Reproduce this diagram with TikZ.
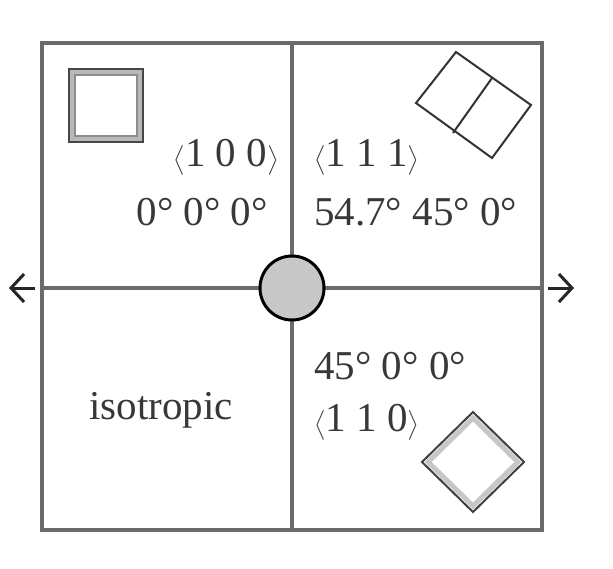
\documentclass[tikz,border=0pt]{standalone}
\usepackage{amsmath}
\usepackage{fontspec}
\setmainfont{Liberation Serif}
\usetikzlibrary{arrows.meta,calc}
\newcommand{\lang}{$\bigl\langle$}
\newcommand{\rang}{$\bigr\rangle$}
\begin{document}
\begin{tikzpicture}[x=1pt,y=-1pt,
  frame/.style={draw=black!58, line width=3.5pt},
  lbl/.style={font=\fontsize{41}{48}\selectfont, text=black!78, inner sep=0pt},
  ax/.style={draw=black!85, line width=3pt, -{Straight Barb[length=13pt,width=28pt,line width=3pt]}},
  thin/.style={draw=black!80, line width=2pt}]
\useasboundingbox[fill=white] (0,0) rectangle (613,568);
% outer frame and cross
\coordinate (tl) at (42,43);
\coordinate (br) at (542,530);
\draw[frame] (tl) rectangle (br);
\coordinate (vt) at (292,43);
\coordinate (vb) at (292,530);
\coordinate (hl) at (42,288);
\coordinate (hr) at (542,288);
\draw[frame] (vt) -- (vb);
\draw[frame] (hl) -- (hr);
% center circle
\node[circle, draw=black, line width=3pt, fill=black!22, minimum size=64pt, inner sep=0pt] (c) at (292,288) {};
% arrows
\coordinate (la0) at (35,288);
\coordinate (la1) at (9,288);
\coordinate (ra0) at (548,288);
\coordinate (ra1) at (574,288);
\draw[ax] (la0) -- (la1);
\draw[ax] (ra0) -- (ra1);
% top-left square
\draw[draw=black!28, line width=6pt] (72,72) rectangle (140,139);
\draw[draw=black!72, line width=2.5pt] (69,69) rectangle (143,142);
\draw[draw=black!45, line width=1.2pt] (75,75) rectangle (137,136);
% top-right rotated rectangle
\coordinate (r1) at (416,103);
\coordinate (r2) at (456,52);
\coordinate (r3) at (531,105);
\coordinate (r4) at (492,158);
\coordinate (m1) at (492,78);
\coordinate (m2) at (453,133);
\draw[thin] (r1) -- (r2) -- (r3) -- (r4) -- cycle;
\draw[thin] (m1) -- (m2);
% bottom-right diamond
\coordinate (d1) at (473,412);
\coordinate (d2) at (524,462);
\coordinate (d3) at (473,512);
\coordinate (d4) at (422,462);
\draw[draw=black!22, line width=5pt] ($(d1)!0.06!(d3)$) -- ($(d2)!0.06!(d4)$) -- ($(d3)!0.06!(d1)$) -- ($(d4)!0.06!(d2)$) -- cycle;
\draw[draw=black!75, line width=2pt] (d1) -- (d2) -- (d3) -- (d4) -- cycle;
% labels
\node[lbl, anchor=east] (t100) at (279,157) {\lang1 0 0\rang};
\node[lbl, anchor=east] (a100) at (268,212) {0° 0° 0°};
\node[lbl, anchor=west] (t111) at (314,157) {\lang1 1 1\rang};
\node[lbl, anchor=west] (a111) at (314,212) {54.7° 45° 0°};
\node[lbl, anchor=west] (a110) at (314,366) {45° 0° 0°};
\node[lbl, anchor=west] (t110) at (314,422) {\lang1 1 0\rang};
\node[lbl] (iso) at (161,410) {isotropic};
\end{tikzpicture}
\end{document}
